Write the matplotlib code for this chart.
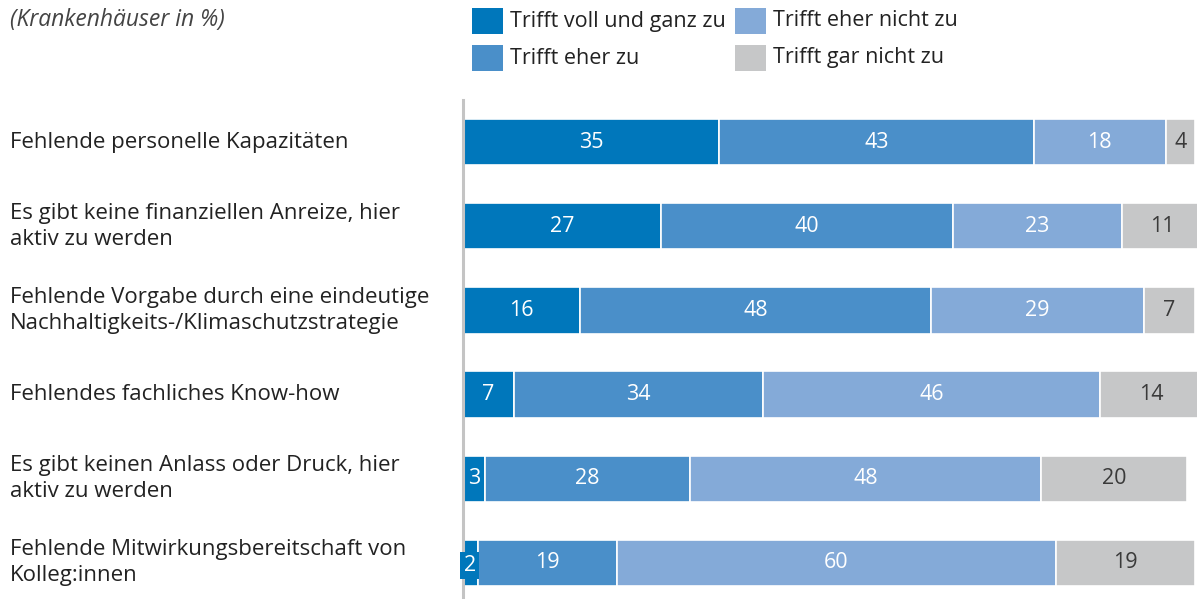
import matplotlib
matplotlib.use('Agg')
import matplotlib.pyplot as plt
from matplotlib.patches import Rectangle
import numpy as np

# Survey answers per obstacle (hospitals in %)
categories = [
    'Fehlende personelle Kapazitäten',
    'Es gibt keine finanziellen Anreize, hier\naktiv zu werden',
    'Fehlende Vorgabe durch eine eindeutige\nNachhaltigkeits-/Klimaschutzstrategie',
    'Fehlendes fachliches Know-how',
    'Es gibt keinen Anlass oder Druck, hier\naktiv zu werden',
    'Fehlende Mitwirkungsbereitschaft von\nKolleg:innen',
]
series_names = ['Trifft voll und ganz zu', 'Trifft eher zu',
                'Trifft eher nicht zu', 'Trifft gar nicht zu']
voll = [35, 27, 16, 7, 3, 2]
eher = [43, 40, 48, 34, 28, 19]
eher_nicht = [18, 23, 29, 46, 48, 60]
gar_nicht = [4, 11, 7, 14, 20, 19]

colors = ['#0077bb', '#4a8fc9', '#84aad8', '#c6c7c8']
text_colors = ['white', 'white', 'white', '#3a3a3a']

plt.rcParams['font.family'] = ['Open Sans', 'DejaVu Sans']

fig = plt.figure(figsize=(11.97, 5.99), dpi=100)
ax = fig.add_axes([463 / 1197, 0.0, 734 / 1197, 1 - 100 / 599])

y = np.arange(len(categories))
left = np.zeros(len(categories))
for name, vals, col, tcol in zip(series_names,
                                 [voll, eher, eher_nicht, gar_nicht],
                                 colors, text_colors):
    vals = np.array(vals, dtype=float)
    ax.barh(y, vals, left=left, height=0.55, color=col,
            edgecolor='white', linewidth=1.2)
    for yi, l, v in zip(y, left, vals):
        if v <= 2:
            # too narrow, put the number in its own little box
            ax.text(l + v / 2 - 0.1, yi + 0.03, '%d' % v, ha='center',
                    va='center', fontsize=15.5, color=tcol,
                    bbox=dict(boxstyle='square,pad=0.15', fc=col, ec='none'))
        else:
            ax.text(l + v / 2, yi, '%d' % v, ha='center', va='center',
                    fontsize=15.5, color=tcol)
    left += vals

ax.set_xlim(0, 100.3)
ax.set_ylim(len(categories) - 0.57, -0.5)
ax.set_xticks([])
ax.set_yticks([])
for s in ['top', 'right', 'bottom']:
    ax.spines[s].set_visible(False)
ax.spines['left'].set_color('#c4c4c4')
ax.spines['left'].set_linewidth(2.2)

# Category labels, left aligned at the figure edge
for yi, cat in zip(y, categories):
    ax.text(-453 / 734 * 100.3, yi, cat, ha='left',
            va='center', fontsize=16, color='#222222', linespacing=1.3,
            clip_on=False)

fig.text(10 / 1197, 1 - 20 / 599, '(Krankenhäuser in %)', ha='left',
         va='center', fontsize=16.5, style='italic', color='#444444')

# Legend in two columns
legend_pos = [(472, 21), (472, 58), (735, 21), (735, 58)]
for (px, py), name, col in zip(legend_pos, series_names, colors):
    fig.add_artist(Rectangle((px / 1197, 1 - (py + 12.5) / 599), 31 / 1197,
                             25 / 599, transform=fig.transFigure,
                             color=col, lw=0))
    fig.text((px + 38) / 1197, 1 - py / 599, name, ha='left', va='center',
             fontsize=15.5, color='#222222')

fig.savefig('out.png', dpi=100)
